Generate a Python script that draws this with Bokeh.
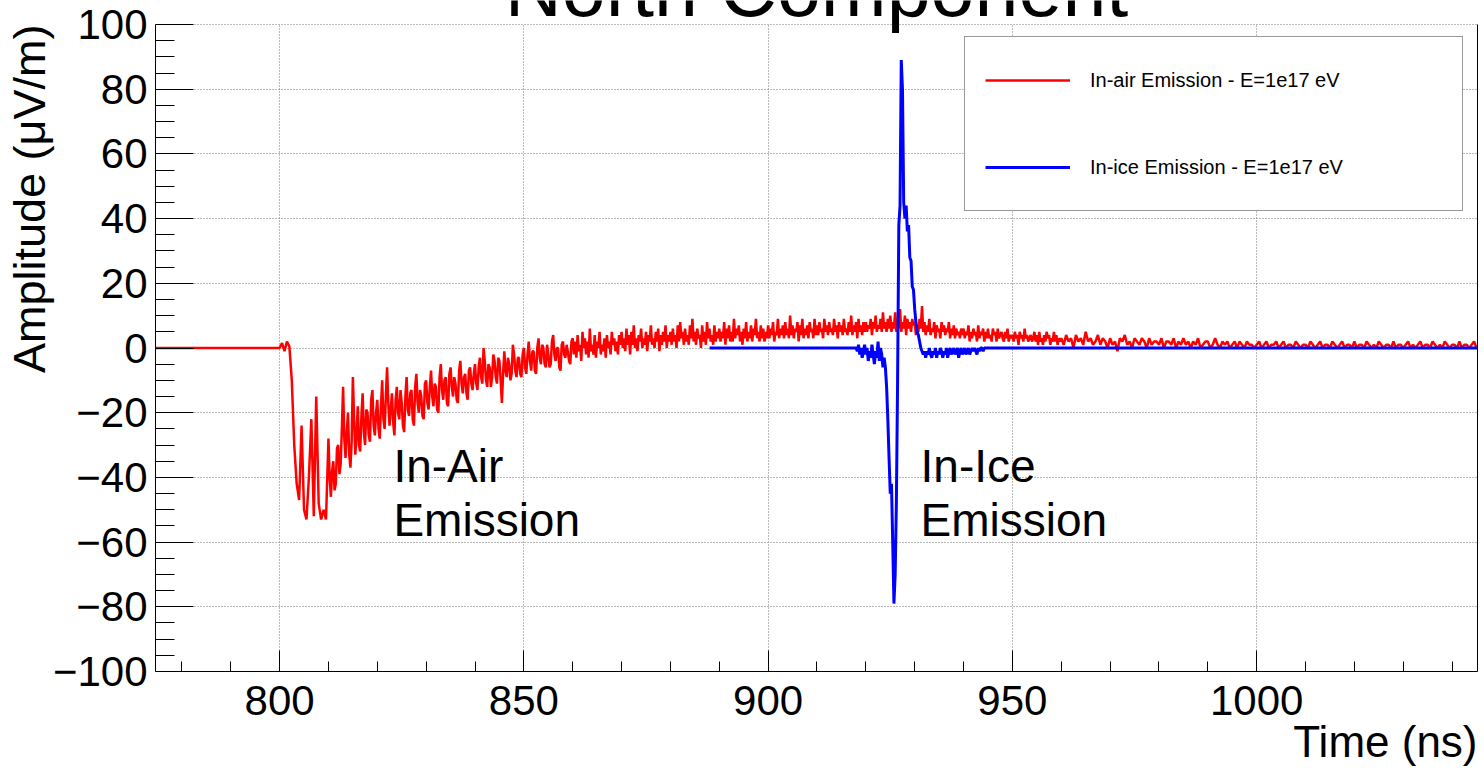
from bokeh.plotting import figure
from bokeh.models import (Range1d, FixedTicker, LinearAxis, Label, Legend,
                          LegendItem, ColumnDataSource, Title)
from bokeh.core.properties import value
from bokeh.embed import file_html
from bokeh.resources import INLINE

FONT = "Liberation Sans"

# ---------------- data ----------------
air_lead_time = [770.0]
air_lead_amp = [0.0]

# 800.0 - 809.5 ns, every 0.5 ns
air_a_start, air_a_step = 800.0, 0.5
air_a_amp = [0, 1.5, -1, 2, 0.5, -10, -30, -42, -47, -24, -50, -53, -40, -22, -52, -15, -48, -53, -50, -53]

# 810.0 - 959.75 ns, every 0.25 ns
air_b_start, air_b_step = 810.0, 0.25
air_b_amp = (
    [-28, -40, -46, -38, -35, -44, -42, -31, -30, -39, -36, -25, -12, -28, -34, -26, -20, -33, -37, -29,
     -9, -22, -33, -27, -18, -30, -32, -21, -14, -26, -30, -19, -20, -27, -29, -16, -13, -24, -27, -20]
    + [-16, -25, -28, -18, -10, -22, -25, -15, -6, -17, -24, -19, -14, -23, -27, -16, -12, -20, -22, -13,
       -17, -24, -26, -15, -9, -19, -21, -14, -13, -22, -24, -12, -8, -17, -20, -13, -15, -21, -22, -11]
    + [-10, -17, -19, -12, -7, -15, -18, -11, -12, -19, -20, -9, -5, -13, -16, -10, -9, -17, -18, -8,
       -6, -12, -15, -9, -11, -16, -17, -7, -4, -11, -14, -9, -8, -14, -16, -7, -6, -11, -13, -8]
    + [-5, -11, -13, -6, -3, -9, -11, 0, -4, -10, -12, -5, -6, -12, -9, -2, -4, -9, -11, -3,
       -4, -10, -17, -8, -1, -7, -9, -3, -5, -10, -8, 1, -2, -7, -9, -3, -3, -8, -9, -2]
    + [0, -6, -8, -2, 2, -4, -7, -1, -1, -7, -8, 0, 3, -3, -5, 1, 0, -5, -6, 1,
       -2, -6, -5, 2, 4, -2, -4, 0, 0, -6, -7, 1, 2, -2, -3, 1, -1, -4, -5, 2]
    + [3, -2, 2, -3, 4, -1, 1, -4, 5, 0, 3, -2, 2, -3, 6, -1, 1, -2, 4, -3,
       2, 0, 5, -2, 1, -1, 3, -3, 4, 0, 2, -2, 5, 1, 3, -1, 2, -2, 4, 1]
    + [5, 0, 3, -1, 6, 1, 4, -2, 5, 1, 7, 0, 3, -1, 4, 2, 6, 0, 3, 1,
       5, -1, 4, 2, 7, 1, 3, 0, 5, 2, 6, -1, 4, 1, 5, 2, 7, 0, 4, 2]
    + [5, 1, 6, 2, 4, 0, 7, 2, 8, 3, 5, 1, 6, 2, 4, 1, 7, 3, 9, 2,
       5, 1, 6, 3, 4, 0, 7, 2, 5, 1, 8, 3, 6, 2, 4, 1, 7, 2, 5, 3]
    + [6, 2, 5, 3, 8, 1, 6, 3, 7, 2, 5, 2, 9, 3, 6, 4, 7, 2, 5, 1,
       6, 3, 8, 2, 5, 3, 7, 2, 6, 4, 9, 3, 5, 2, 7, 3, 6, 2, 5, 3]
    + [7, 3, 6, 4, 8, 2, 5, 4, 9, 3, 6, 4, 7, 3, 8, 4, 6, 3, 10, 4,
       7, 3, 6, 5, 8, 2, 7, 4, 9, 3, 6, 4, 7, 3, 8, 5, 6, 3, 9, 4]
    + [7, 4, 8, 5, 6, 3, 9, 5, 7, 4, 8, 5, 6, 4, 9, 5, 7, 3, 8, 5,
       7, 4, 9, 5, 6, 4, 8, 5, 10, 4, 7, 5, 8, 3, 9, 5, 7, 4, 8, 5]
    + [8, 5, 7, 6, 9, 4, 8, 6, 10, 5, 7, 6, 9, 5, 11, 6, 8, 5, 9, 6,
       10, 5, 8, 6, 11, 5, 9, 6, 12, 5, 8, 6, 10, 4, 9, 6, 8, 5, 9, 7]
    + [8, 4, 7, 5, 9, 6, 13, 5, 8, 4, 7, 5, 9, 4, 6, 5, 8, 3, 7, 5,
       6, 3, 8, 5, 7, 4, 6, 5, 8, 3, 6, 4, 7, 3, 6, 4, 5, 3, 6, 4]
    + [6, 3, 5, 4, 7, 2, 5, 3, 6, 4, 5, 2, 7, 3, 5, 4, 6, 2, 5, 3,
       6, 3, 4, 2, 6, 4, 5, 2, 6, 3, 4, 5, 3, 2, 5, 3, 6, 2, 4, 3]
    + [4, 2, 5, 3, 4, 1, 5, 3, 4, 2, 6, 3, 4, 2, 3, 4, 2, 3, 5, 2,
       4, 1, 5, 2, 3, 1, 4, 2, 5, 3, 4, 1, 3, 2, 5, 2, 4, 1, 3, 2]
)

# 960.0 - 1045.0 ns, every 0.5 ns
air_c_start, air_c_step = 960.0, 0.5
air_c_amp = (
    [3, 1, 4, 2, 3, 0, 4, 2, 3, 1, 5, 2, 3, 1, 2, 4, 1, 3, 2, 0]
    + [3, 1, 2, -1, 3, 2, 4, 1, 2, 0, 3, 2, 1, 3, 2, 0, 3, 1, 2, 2]
    + [1, 3, 0, 2, 2, 1, 3, 0, 2, 1, 3, 1, 2, 0, 2, 1, 3, 0, 1, 2]
    + [2, 0, 1, 3, 1, 0, 2, 1, 2, 0, 1, 2, 0, 2, 1, 0, 2, 1, 1, 0]
    + [1, 2, 0, 1, 2, 0, 1, 1, 2, 0, 1, 2, 0, 1, 1, 0, 2, 1, 0, 1]
    + [1, 0, 2, 1, 0, 1, 2, 0, 1, 1, 0, 2, 1, 0, 1, 2, 0, 1, 1, 0]
    + [2, 0, 1, 1, 0, 2, 1, 0, 1, 0, 2, 1, 0, 1, 1, 0, 2, 0, 1, 1]
    + [0, 1, 2, 0, 1, 0, 1, 2, 0, 1, 1, 0, 2, 1, 0, 1, 0, 2, 1, 0]
    + [1, 1, 0, 2, 0, 1, 1, 0, 1, 2, 0]
)

# In-ice emission (blue): flat from 888 ns, samples every 0.25 ns from 918 ns, flat tail
ice_lead_time = [888.0]
ice_lead_amp = [0.0]
ice_start, ice_step = 918.0, 0.25
ice_amp = (
    [0, -1, 1, -2, 0, -3, -1, 1]
    + [-2, 0, -4, -1, -3, 1, -2, -5]
    + [-1, -3, 2, -4, 0, -2, -6, -3]
    + [-6, -12, -22, -34, -45, -42, -60, -79]
    + [-70, -48, -10, 38, 44, 89, 80, 45]
    + [40, 44, 36, 38, 28, 27, 19, 18]
    + [12, 8, 5, 4, 2, 0, -1, -2]
    + [-1, -3, -1, -2, 0, -2, -3, -1]
    + [-2, 0, -3, -1, -2, 0, -1, -3]
    + [-1, -2, 0, -3, -1, 0, -2, -1]
    + [0, -2, -1, 0, -3, -1, 0, -2]
    + [-1, 0, -2, -1, 0, -2, -1, 0]
    + [-1, 0, -1, -2, 0, -1, 0, 0]
    + [-1, 0, 0, 0, 0]
)
ice_tail_time = [1046.0]
ice_tail_amp = [0.0]

series_labels = ["In-air Emission - E=1e17 eV", "In-ice Emission - E=1e17 eV"]

x_major = [800, 850, 900, 950, 1000]
x_minor = [780, 790, 810, 820, 830, 840, 860, 870, 880, 890, 910, 920, 930, 940,
           960, 970, 980, 990, 1010, 1020, 1030, 1040]
y_major = [-100, -80, -60, -40, -20, 0, 20, 40, 60, 80, 100]
y_labels = ["\u2212100", "\u221280", "\u221260", "\u221240", "\u221220", "0",
            "20", "40", "60", "80", "100"]
y_minor = [v for v in range(-95, 100, 5) if v % 20 != 0]

note_text = ["In-Air", "Emission", "In-Ice", "Emission"]
note_x = [823.3, 823.3, 931.2, 931.2]
note_y = [-36.5, -53.2, -36.5, -53.2]

title_text = "North Component"
x_title = "Time (ns)"
y_title = "Amplitude (\u03bcV/m)"

# ---------------- build sources ----------------
def stretch(start, step, vals):
    return [start + step * i for i in range(len(vals))]

air_time = (air_lead_time + stretch(air_a_start, air_a_step, air_a_amp)
            + stretch(air_b_start, air_b_step, air_b_amp)
            + stretch(air_c_start, air_c_step, air_c_amp))
air_vals = air_lead_amp + list(air_a_amp) + list(air_b_amp) + list(air_c_amp)
ice_time = ice_lead_time + stretch(ice_start, ice_step, ice_amp) + ice_tail_time
ice_vals = ice_lead_amp + list(ice_amp) + ice_tail_amp

# frame reaches the top of the canvas so the big title (cut by the page edge) can show;
# the axes and grid stay bounded to -100..100
Y_TOP = 100 + 24 / 3.235
p = figure(width=1484, height=768, output_backend="svg", toolbar_location=None,
           x_range=Range1d(774.6, 1045.2), y_range=Range1d(-100, Y_TOP),
           min_border_left=155, min_border_right=7, min_border_top=0,
           min_border_bottom=97)
p.background_fill_color = "white"
p.border_fill_color = "white"
p.outline_line_color = None

for ax in (p.xaxis[0], p.yaxis[0]):
    ax.axis_line_color = "black"
    ax.axis_line_width = 1
    ax.major_tick_line_color = "black"
    ax.minor_tick_line_color = "black"
    ax.major_tick_out = 0
    ax.minor_tick_out = 0
    ax.major_label_text_font = FONT
    ax.major_label_text_font_size = "42px"
    ax.major_label_text_color = "black"

p.xaxis[0].ticker = FixedTicker(ticks=x_major, minor_ticks=x_minor)
p.xaxis[0].major_tick_in = 21
p.xaxis[0].minor_tick_in = 10
p.xaxis[0].major_label_standoff = 14
p.xaxis[0].major_label_overrides = {v: str(v) for v in x_major}

p.yaxis[0].ticker = FixedTicker(ticks=y_major, minor_ticks=y_minor)
p.yaxis[0].bounds = (-100, 100)
p.yaxis[0].major_tick_in = 38
p.yaxis[0].minor_tick_in = 19
p.yaxis[0].major_label_standoff = 8
p.yaxis[0].major_label_overrides = {v: s for v, s in zip(y_major, y_labels)}

for g in (p.xgrid[0], p.ygrid[0]):
    g.grid_line_color = "#777777"
    g.grid_line_dash = "1 2"
    g.grid_line_width = 1
p.xgrid[0].cross_bounds = (-100, 100)

right_axis = LinearAxis(ticker=FixedTicker(ticks=[]), axis_line_color="black",
                        bounds=(-100, 100),
                        major_tick_in=0, major_tick_out=0, minor_tick_in=0,
                        minor_tick_out=0, major_label_standoff=0)
p.add_layout(right_axis, "right")

air_r = p.line(air_time, air_vals, line_color="#ff0000", line_width=2.5)
ice_r = p.line(ice_time, ice_vals, line_color="#0000ff", line_width=3)

notes = ColumnDataSource(dict(x=note_x, y=note_y, text=note_text))
p.text(x="x", y="y", text="text", source=notes, text_font=value(FONT),
       text_font_size="46px", text_align="left", text_baseline="alphabetic",
       text_color="black")

legend = Legend(items=[LegendItem(label=series_labels[0], renderers=[air_r]),
                       LegendItem(label=series_labels[1], renderers=[ice_r])],
                location=(809, 460), margin=0, padding=20, spacing=41,
                label_height=46, glyph_height=46, glyph_width=85,
                label_standoff=20, label_width=352,
                label_text_font=FONT, label_text_font_size="20px",
                label_text_color="black",
                border_line_color="#333333", border_line_width=1,
                background_fill_color="white", background_fill_alpha=1.0)
p.add_layout(legend, "center")

# big title, cut by the top edge of the page as in the reference
p.add_layout(Label(x=661, y=683, x_units="screen", y_units="screen", text=title_text,
                   text_font=FONT, text_font_size="79px", text_align="center",
                   text_baseline="alphabetic", text_color="black"))

p.add_layout(Title(text=x_title, align="right", vertical_align="top", standoff=-2,
                   text_font=FONT, text_font_size="44px", text_font_style="normal",
                   text_color="black"), "below")
p.add_layout(Title(text=y_title, align="right", vertical_align="bottom", standoff=-10,
                   offset=24, text_font=FONT, text_font_size="45px",
                   text_font_style="normal", text_color="black"), "left")

open("out.html", "w").write(file_html(p, INLINE))
